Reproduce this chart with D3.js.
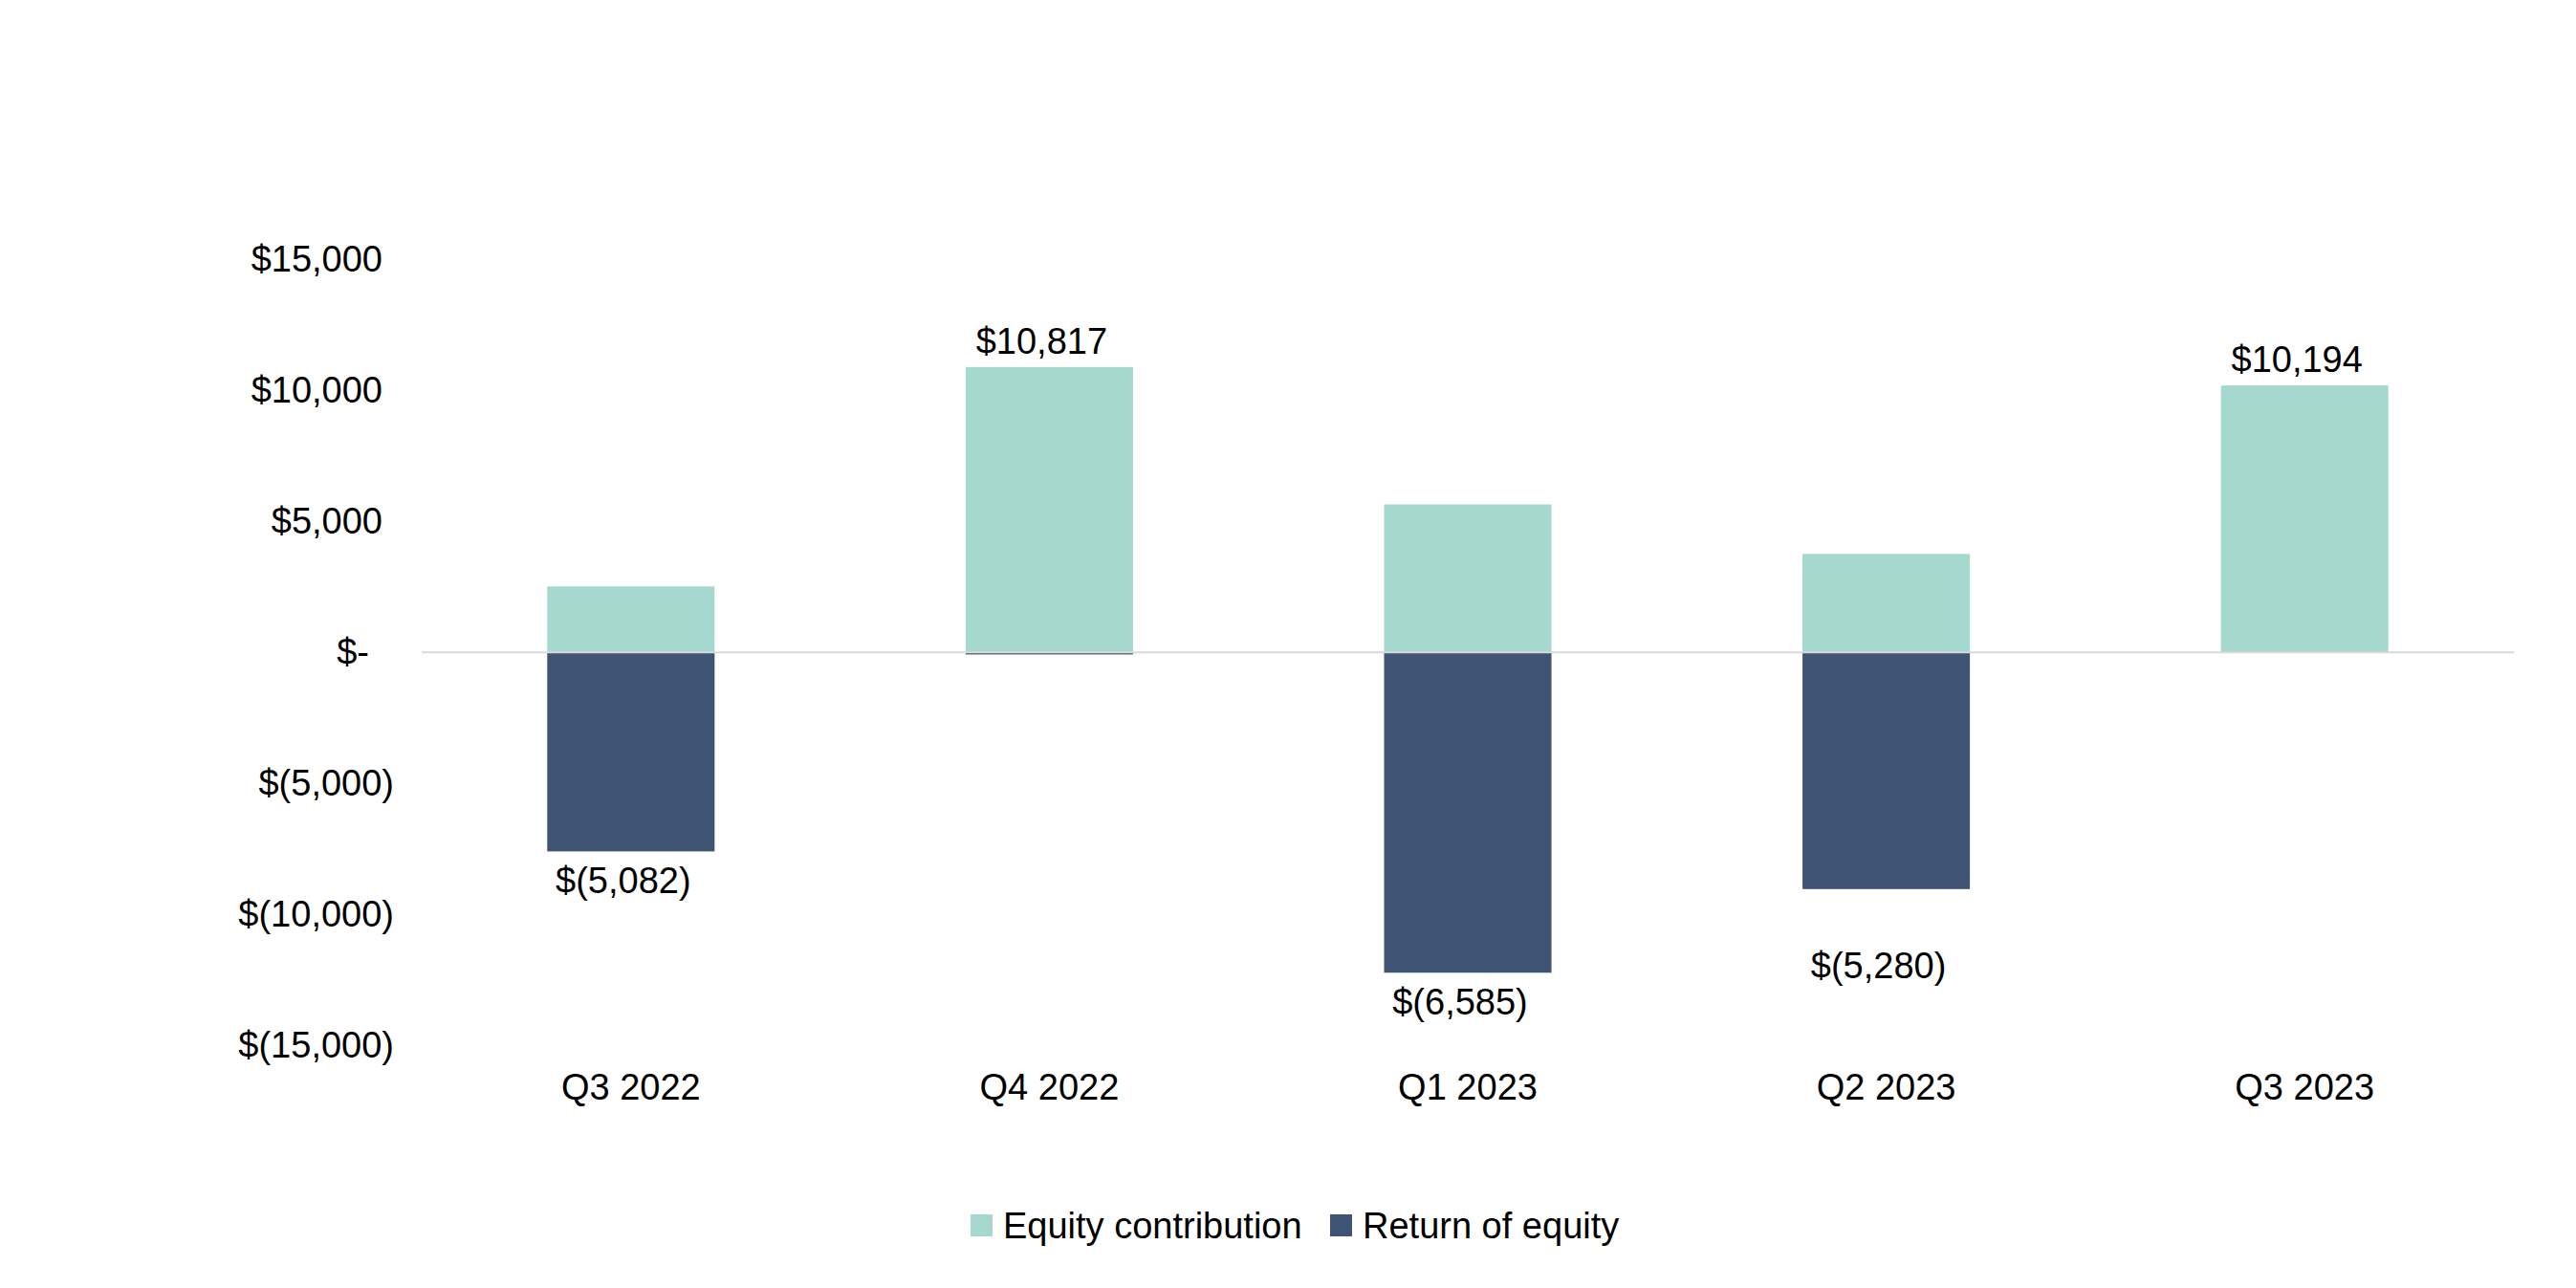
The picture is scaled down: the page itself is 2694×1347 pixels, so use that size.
<!DOCTYPE html>
<html>
<head>
<meta charset="utf-8">
<script src="https://cdn.jsdelivr.net/npm/d3@7"></script>
<style>
  html, body { margin: 0; padding: 0; background: #fff; }
  svg { display: block; font-family: "Liberation Sans", Arial, sans-serif; }
</style>
</head>
<body>
<svg id="chart" width="2694" height="1347"></svg>
<script>
// ---- data ----
const categories = ["Q3 2022", "Q4 2022", "Q1 2023", "Q2 2023", "Q3 2023"];
const equityContribution = [2520, 10897, 5650, 3760, 10194];
const returnOfEquity = [-7602, -80, -12235, -9040, 0];
const seriesNames = ["Equity contribution", "Return of equity"];
const yTicks = [15000, 10000, 5000, 0, -5000, -10000, -15000];

// ---- layout ----
const W = 2694, H = 1347;
const plot = { left: 441, right: 2629, top: 271.5, bottom: 1093 };
const colors = { contrib: "#A5D8CF", ret: "#3F5373" };
const fontSize = 38;

const svg = d3.select("#chart");

const x = d3.scaleBand()
  .domain(categories)
  .range([plot.left, plot.right])
  .paddingInner(0.6)
  .paddingOuter(0.3);

const y = d3.scaleLinear()
  .domain([-15000, 15000])
  .range([plot.bottom, plot.top]);

// accounting format
function fmtAcct(v) {
  if (v === 0) return "$-";
  const s = d3.format(",")(Math.abs(v));
  return v < 0 ? "$(" + s + ")" : "$" + s;
}
const yAxis = d3.axisLeft(y).tickValues(yTicks).tickFormat(fmtAcct).tickSize(0).tickPadding(0);
const gY = svg.append("g").attr("transform", `translate(412,0)`).call(yAxis);
gY.select(".domain").remove();
gY.selectAll("text")
  .attr("font-family", "Liberation Sans, Arial, sans-serif")
  .attr("font-size", fontSize)
  .attr("fill", "#000")
  .attr("dx", d => d < 0 ? 0 : (d === 0 ? -26 : -12));

// bars
const rows = categories.map((c, i) => ({ cat: c, contrib: equityContribution[i], ret: returnOfEquity[i] }));

svg.append("g").selectAll("rect")
  .data(rows).join("rect")
  .attr("x", d => x(d.cat))
  .attr("width", x.bandwidth())
  .attr("y", d => y(Math.max(0, d.contrib)))
  .attr("height", d => Math.abs(y(d.contrib) - y(0)))
  .attr("fill", colors.contrib);

svg.append("g").selectAll("rect")
  .data(rows).join("rect")
  .attr("x", d => x(d.cat))
  .attr("width", x.bandwidth())
  .attr("y", d => y(0))
  .attr("height", d => Math.abs(y(d.ret) - y(0)))
  .attr("fill", colors.ret);

// zero line
svg.append("line")
  .attr("x1", plot.left).attr("x2", plot.right)
  .attr("y1", y(0)).attr("y2", y(0))
  .attr("stroke", "#D9D9D9").attr("stroke-width", 2);

// x-axis labels
const xAxis = d3.axisBottom(x).tickSize(0).tickPadding(0);
const gX = svg.append("g").attr("transform", `translate(0,1137)`).call(xAxis);
gX.select(".domain").remove();
gX.selectAll("text")
  .attr("font-family", "Liberation Sans, Arial, sans-serif")
  .attr("font-size", fontSize)
  .attr("fill", "#000")
  .attr("dy", "0.35em");

// net total labels
const extraNudge = { "Q2 2023": 50 };
svg.append("g").selectAll("text")
  .data(rows).join("text")
  .attr("x", d => x(d.cat) + x.bandwidth() / 2 - 8)
  .attr("y", d => {
    const net = d.contrib + d.ret;
    if (net >= 0) return y(d.contrib) - 27;
    return y(d.ret) + 30 + (extraNudge[d.cat] || 0);
  })
  .attr("dy", "0.35em")
  .attr("text-anchor", "middle")
  .attr("font-size", fontSize)
  .attr("fill", "#000")
  .text(d => fmtAcct(d.contrib + d.ret));

// legend
const legend = svg.append("g").attr("transform", "translate(0,1282)");
const legItems = [
  { name: seriesNames[0], color: colors.contrib, x: 1015 },
  { name: seriesNames[1], color: colors.ret, x: 1391 }
];
const li = legend.selectAll("g").data(legItems).join("g")
  .attr("transform", d => `translate(${d.x},0)`);
li.append("rect").attr("x", 0).attr("y", -12).attr("width", 23).attr("height", 23).attr("fill", d => d.color);
li.append("text").attr("x", 34).attr("dy", "0.35em")
  .attr("font-size", fontSize).attr("fill", "#000").text(d => d.name);
</script>
</body>
</html>
